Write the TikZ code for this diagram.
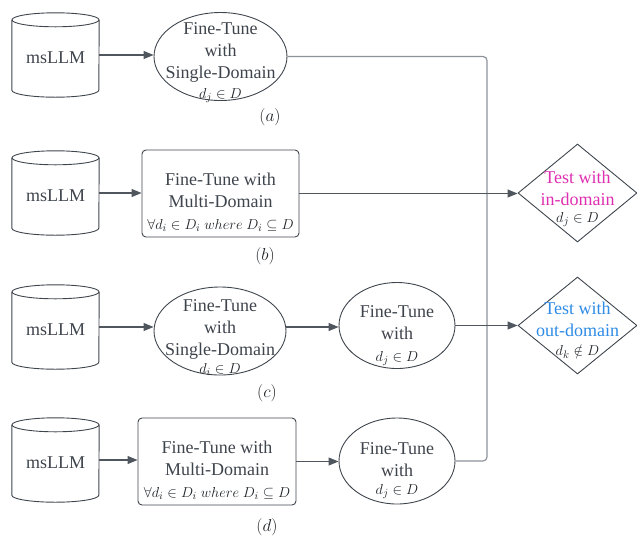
\documentclass[tikz,border=0pt]{standalone}
\usepackage{fontspec}
\setmainfont{Liberation Serif}
\usetikzlibrary{shapes.geometric,arrows.meta,calc}
\definecolor{txt}{HTML}{3E444C}
\definecolor{strokec}{HTML}{3F454D}
\definecolor{conn}{HTML}{50565D}
\definecolor{busc}{HTML}{8E9399}
\definecolor{mathc}{HTML}{1E2226}
\definecolor{indom}{HTML}{DE2FB0}
\definecolor{outdom}{HTML}{2E8BE6}
\newcommand{\ctext}[2][-4.5pt]{\raisebox{#1}[0pt][0pt]{\makebox[0pt]{\begin{tabular}{@{}c@{}}#2\end{tabular}}}}
\newcommand{\mline}[1]{{\fontsize{15}{17}\selectfont\color{mathc}$#1$}}
\newcommand{\cylout}[1]{%
  \draw[shapeline] (#1.north) ellipse [x radius=43.5pt, y radius=7pt];
  \draw[shapeline] (#1.north west) -- (#1.south west)
    arc[start angle=180, end angle=360, x radius=43.5pt, y radius=7pt] -- (#1.north east);}
\tikzset{
  shapeline/.style={draw=strokec, line width=0.9pt},
  base/.style={shapeline, inner sep=0pt, text=txt, font=\fontsize{18}{22}\selectfont},
  cylbody/.style={inner sep=0pt, minimum width=87pt, minimum height=70pt, text=txt, font=\fontsize{18}{22}\selectfont},
  bigell/.style={base, ellipse, minimum width=133pt, minimum height=88pt},
  smallell/.style={base, ellipse, minimum width=116pt, minimum height=86pt},
  boxnode/.style={base, rectangle, rounded corners=4pt, minimum width=157pt, minimum height=87pt},
  testnode/.style={base, diamond, minimum width=119pt, minimum height=98pt},
  caplabel/.style={inner sep=0pt, font=\fontsize{16}{18}\selectfont, text=mathc},
  arr/.style={draw=conn, line width=1.1pt, -{Triangle[length=10pt,width=8pt]}},
  bus/.style={draw=busc, line width=1.2pt, rounded corners=4pt},
}
\begin{document}
\begin{tikzpicture}[x=1pt,y=-1pt]
\useasboundingbox (0,0) rectangle (637,539);
% row a
\node[cylbody] (cylA) at (55.5,55) {\ctext[-8.5pt]{msLLM}};
\cylout{cylA}
\node[bigell] (ellA) at (220.5,56.5) {\ctext[-9.5pt]{Fine-Tune\\with\\Single-Domain\\[-2pt]\mline{d_j\in D}}};
\node[caplabel] (labA) at (270,117) {$(a)$};
% row b
\node[cylbody] (cylB) at (55.5,193) {\ctext[-8.5pt]{msLLM}};
\cylout{cylB}
\node[boxnode] (rectB) at (220.5,193.5) {\ctext[-14pt]{Fine-Tune with\\Multi-Domain\\\mline{\forall d_i\in D_i\ where\ D_i\subseteq D}}};
\node[caplabel] (labB) at (265,256) {$(b)$};
% row c
\node[cylbody] (cylC) at (55.5,327) {\ctext[-8.5pt]{msLLM}};
\cylout{cylC}
\node[bigell, minimum width=132pt] (ellC) at (220,331) {\ctext[-11pt]{Fine-Tune\\with\\Single-Domain\\[-4pt]\mline{d_i\in D}}};
\node[smallell] (ellC2) at (397,325.5) {\ctext[-14pt]{Fine-Tune\\with\\\mline{d_j\in D}}};
\node[caplabel] (labC) at (267,393) {$(c)$};
% row d
\node[cylbody] (cylD) at (55.5,460) {\ctext[-8.5pt]{msLLM}};
\cylout{cylD}
\node[boxnode, minimum width=158pt] (rectD) at (217,461.5) {\ctext[-14pt]{Fine-Tune with\\Multi-Domain\\\mline{\forall d_i\in D_i\ where\ D_i\subseteq D}}};
\node[smallell] (ellD2) at (397,461) {\ctext[-13pt]{Fine-Tune\\with\\[-4pt]\mline{d_j\in D}}};
\node[caplabel] (labD) at (267,527) {$(d)$};
% tests
\node[testnode] (dmB) at (577.5,193) {\ctext[-9.5pt]{\color{indom}Test with\\\color{indom}in-domain\\[-5pt]\mline{d_j\in D}}};
\node[testnode, minimum height=97pt] (dmC) at (577.5,325.5) {\ctext[-9.5pt]{\color{outdom}Test with\\\color{outdom}out-domain\\[-3pt]\mline{d_k\notin D}}};
\coordinate (bus) at (487,0);
% connectors
\draw[bus] (ellA.east) -| (bus |- ellD2.east) -- (ellD2.east);
\draw[arr] (cylA.east) -- (cylA.east -| ellA.west);
\draw[arr] (cylB.east) -- (cylB.east -| rectB.west);
\draw[arr] (rectB.east) -- (rectB.east -| dmB.west);
\draw[arr] (cylC.east) -- (cylC.east -| ellC.west);
\draw[arr] (ellC.east |- cylC.east) -- (cylC.east -| ellC2.west);
\draw[arr] (ellC2.east) -- (ellC2.east -| dmC.west);
\draw[arr] (cylD.east) -- (cylD.east -| rectD.west);
\draw[arr] (rectD.east) -- (rectD.east -| ellD2.west);
\end{tikzpicture}
\end{document}
